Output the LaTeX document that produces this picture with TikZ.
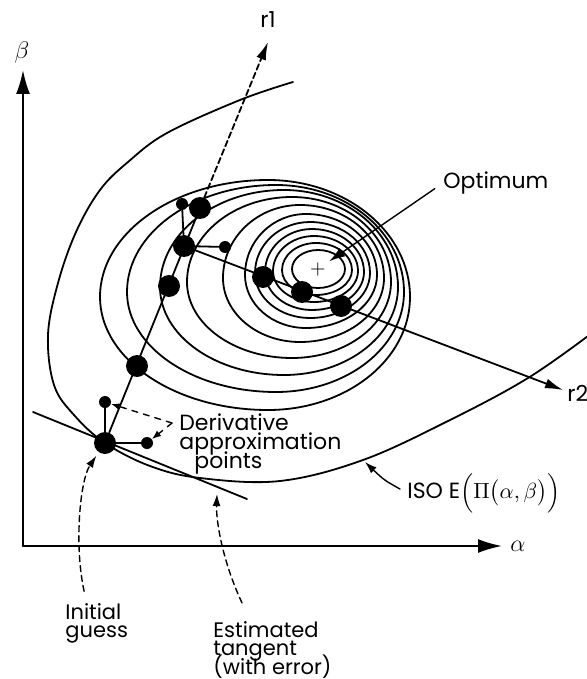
\documentclass[tikz,border=0pt]{standalone}
\usepackage{amsmath}
\usepackage{fontspec}
\setmainfont{Poppins}
\usetikzlibrary{arrows.meta}
\setlength{\lineskiplimit}{-20pt}

\begin{document}
\begin{tikzpicture}[x=0.5pt, y=-0.5pt, line cap=round, line join=round]
  \tikzset{
    curve/.style={line width=0.9pt, draw=black},
    axis/.style={line width=1pt, draw=black, -{Latex[length=12pt, width=7pt]}},
    ray/.style={line width=0.9pt, draw=black, -{Latex[length=9pt, width=5pt]}},
    pointer/.style={line width=0.7pt, draw=black, -{Latex[length=6pt, width=4pt]}},
    bigdot/.style={circle, fill=black, inner sep=0pt, minimum size=11pt},
    smalldot/.style={circle, fill=black, inner sep=0pt, minimum size=6pt},
    txt/.style={inner sep=0pt, font=\fontsize{11}{9.6}\selectfont, align=left},
    smalltxt/.style={txt, font=\fontsize{10.5}{9.3}\selectfont}
  }
  \useasboundingbox (0,0) rectangle (586,679);

  % Axes
  \coordinate (origin) at (23,546);
  \coordinate (beta_end) at (23,70);
  \coordinate (alpha_end) at (502,546);
  \draw[axis] (origin) -- (beta_end);
  \draw[axis] (origin) -- (alpha_end);
  \node[txt, font=\fontsize{13}{13}\selectfont] (beta) at (22,53) {$\beta$};
  \node[txt, font=\fontsize{13}{13}\selectfont, anchor=west] (alpha) at (510,546) {$\alpha$};

  % Closed contours round the optimum
  \foreach \cx/\cy/\al/\ar/\bt/\bb in {
      318/269/26/27/19/19, 316/270/34/36/27/25, 314/271/41/44/35/31,
      312/272/47/52/43/38, 310/273/55/60/51/45, 306/275/61/71/61/53,
      300/278/77/84/73/64, 292/282/105/99/85/76, 284/287/124/114/97/88,
      276/292/149/128/107/100, 268/297/168/142/117/113}{
    \draw[curve] (\cx+\ar,\cy)
      .. controls (\cx+\ar,\cy+0.5523*\bb) and (\cx+0.5523*\ar,\cy+\bb) .. (\cx,\cy+\bb)
      .. controls (\cx-0.5523*\al,\cy+\bb) and (\cx-\al,\cy+0.5523*\bb) .. (\cx-\al,\cy)
      .. controls (\cx-\al,\cy-0.5523*\bt) and (\cx-0.5523*\al,\cy-\bt) .. (\cx,\cy-\bt)
      .. controls (\cx+0.5523*\ar,\cy-\bt) and (\cx+\ar,\cy-0.5523*\bt) .. cycle;
  }

  % Open iso curve through the initial guess
  \draw[curve] plot[smooth, tension=0.6] coordinates {
    (293,82) (240,100) (167,133) (128,162) (100,190) (76,232) (58,283)
    (48,335) (54,385) (74,415) (105,443) (150,466) (200,478) (280,481)
    (363,460) (450,420) (528,378) (592,333)};

  % Optimum
  \node[inner sep=1.5pt, font=\fontsize{10}{10}\selectfont] (opt) at (318,269) {$+$};

  % Search points
  \node[bigdot]   (g0)  at (105,443) {};
  \node[smalldot] (d0a) at (105,402) {};
  \node[smalldot] (d0b) at (147,443) {};
  \node[bigdot]   (s1)  at (137,366) {};
  \node[bigdot]   (s2)  at (169,286) {};
  \node[bigdot]   (g1)  at (184,246) {};
  \node[smalldot] (d1a) at (182,204) {};
  \node[smalldot] (d1b) at (225,247) {};
  \node[bigdot]   (s3)  at (200,208) {};
  \node[bigdot]   (t1)  at (263,277) {};
  \node[bigdot]   (t2)  at (302,292) {};
  \node[bigdot]   (t3)  at (341,306) {};

  % Estimated tangent at the initial guess
  \coordinate (tan_a) at (33,412);
  \coordinate (tan_b) at (247,499);
  \draw[curve] (tan_a) -- (tan_b);

  % Search direction r1
  \coordinate (r1_tip) at (268,42);
  \node[txt] (r1) at (268,20) {r1};
  \draw[curve] (g0) -- (s3);
  \draw[ray, dash pattern=on 3pt off 1.6pt] (s3) -- (r1_tip);

  % Search direction r2
  \coordinate (r2_tip) at (563,390);
  \node[txt, anchor=west] (r2) at (567,393) {r2};
  \draw[ray] (g1) -- (r2_tip);

  % Derivative approximation legs
  \draw[curve] (g0) -- (d0a);
  \draw[curve] (g0) -- (d0b);
  \draw[curve] (g1) -- (d1a);
  \draw[curve] (g1) -- (d1b);

  % Labels and pointers
  \node[txt, anchor=west] (optlabel) at (443,183) {Optimum};
  \draw[pointer, -{Latex[length=8pt, width=5pt]}, shorten <=5pt] (optlabel.west) -- (opt);

  \node[txt, anchor=north west] (deriv) at (179,413) {Derivative\\approximation\\\hspace*{7.5pt}points};
  \coordinate (deriv_join) at (172,423);
  \draw[pointer, -{Latex[length=4.5pt, width=3.5pt]}, dashed] (deriv_join) -- (d0a);
  \draw[pointer, -{Latex[length=4.5pt, width=3.5pt]}, dashed] (deriv_join) -- (d0b);

  \node[txt, anchor=west] (isolabel) at (407,493) {ISO E$\Bigl(\Pi\bigl(\alpha,\beta\bigr)\Bigr)$};
  \coordinate (iso_tip) at (365,462);
  \draw[pointer, shorten <=4pt] (isolabel.west) .. controls (384,480) .. (iso_tip);

  \node[smalltxt, anchor=north west] (initial) at (65,603) {Initial\\guess};
  \draw[pointer, densely dashed, shorten <=6pt, shorten >=2pt]
    ([xshift=-5pt]initial.north) .. controls (74,545) and (80,480) .. (g0);

  \node[smalltxt, anchor=north west] (esttan) at (213,621) {Estimated\\tangent\\(with error)};
  \coordinate (tan_tip) at (217,494);
  \draw[pointer, densely dashed, shorten <=10pt]
    ([xshift=-11pt]esttan.north) .. controls (222,560) and (216,520) .. (tan_tip);

\end{tikzpicture}
\end{document}
